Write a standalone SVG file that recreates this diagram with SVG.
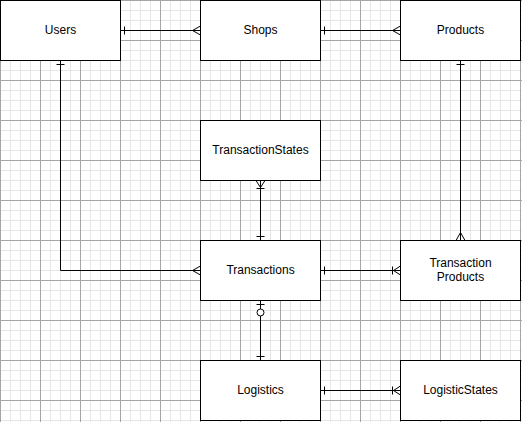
<svg xmlns="http://www.w3.org/2000/svg" width="522" height="422" viewBox="0 0 522 422">
<style>
.box{fill:#fff;stroke:#000;stroke-width:1}
.lbl{font-family:"Liberation Sans",Arial,Helvetica,sans-serif;font-size:12px;fill:#000;text-anchor:middle}
.edge{fill:none;stroke:#000;stroke-width:1}
.mk{fill:none;stroke:#000;stroke-width:1}
</style>
<defs>
<pattern id="minor" width="10" height="10" patternUnits="userSpaceOnUse">
<path d="M0.5 0V10M0 0.5H10" stroke="#e6e6e6" stroke-width="1" fill="none"/>
</pattern>
<pattern id="major" width="40" height="40" patternUnits="userSpaceOnUse">
<path d="M0.5 0V40M0 0.5H40" stroke="#a6a6a6" stroke-width="1" fill="none"/>
</pattern>
<marker id="one" markerUnits="userSpaceOnUse" orient="auto-start-reverse" overflow="visible" markerWidth="1" markerHeight="1" refX="0" refY="0">
<path class="mk" d="M-4 -4V4"/>
</marker>
<marker id="many" markerUnits="userSpaceOnUse" orient="auto-start-reverse" overflow="visible" markerWidth="1" markerHeight="1" refX="0" refY="0">
<path class="mk" d="M0 -4.5L-8 0L0 4.5"/>
</marker>
<marker id="oneMany" markerUnits="userSpaceOnUse" orient="auto-start-reverse" overflow="visible" markerWidth="1" markerHeight="1" refX="0" refY="0">
<path class="mk" d="M0 -4.5L-7 0L0 4.5M-8 -4V4"/>
</marker>
<marker id="zeroOne" markerUnits="userSpaceOnUse" orient="auto-start-reverse" overflow="visible" markerWidth="1" markerHeight="1" refX="0" refY="0">
<path class="mk" d="M-4 -4V4"/>
<circle cx="-12" cy="0" r="3.5" fill="#fff" stroke="#000" stroke-width="1"/>
</marker>
</defs>
<rect width="522" height="422" fill="#fff"/>
<rect width="522" height="422" fill="url(#minor)"/>
<rect width="522" height="422" fill="url(#major)"/>
<g id="connectors">
<path class="edge" d="M120.5 30.5H200.5" marker-start="url(#one)" marker-end="url(#many)"/>
<path class="edge" d="M320.5 30.5H400.5" marker-start="url(#one)" marker-end="url(#many)"/>
<path class="edge" d="M60.5 60.5V270.5H200.5" marker-start="url(#one)" marker-end="url(#many)"/>
<path class="edge" d="M260.5 240.5V180.5" marker-start="url(#one)" marker-end="url(#oneMany)"/>
<path class="edge" d="M320.5 270.5H400.5" marker-start="url(#one)" marker-end="url(#oneMany)"/>
<path class="edge" d="M460.5 60.5V240.5" marker-start="url(#one)" marker-end="url(#many)"/>
<path class="edge" d="M260.5 300.5V360.5" marker-start="url(#zeroOne)" marker-end="url(#one)"/>
<path class="edge" d="M320.5 390.5H400.5" marker-start="url(#one)" marker-end="url(#oneMany)"/>
</g>
<g id="users"><rect class="box" x="0.5" y="0.5" width="120" height="60"/><text class="lbl" x="60.5" y="34">Users</text></g>
<g id="shops"><rect class="box" x="200.5" y="0.5" width="120" height="60"/><text class="lbl" x="260.5" y="34">Shops</text></g>
<g id="products"><rect class="box" x="400.5" y="0.5" width="120" height="60"/><text class="lbl" x="460.5" y="34">Products</text></g>
<g id="transactionStates"><rect class="box" x="200.5" y="120.5" width="120" height="60"/><text class="lbl" x="260.5" y="154">TransactionStates</text></g>
<g id="transactions"><rect class="box" x="200.5" y="240.5" width="120" height="60"/><text class="lbl" x="260.5" y="274">Transactions</text></g>
<g id="transactionProducts"><rect class="box" x="400.5" y="240.5" width="120" height="60"/><text class="lbl" x="460.5" y="267">Transaction</text><text class="lbl" x="460.5" y="281.4">Products</text></g>
<g id="logistics"><rect class="box" x="200.5" y="360.5" width="120" height="60"/><text class="lbl" x="260.5" y="394">Logistics</text></g>
<g id="logisticStates"><rect class="box" x="400.5" y="360.5" width="120" height="60"/><text class="lbl" x="460.5" y="394">LogisticStates</text></g>
</svg>
